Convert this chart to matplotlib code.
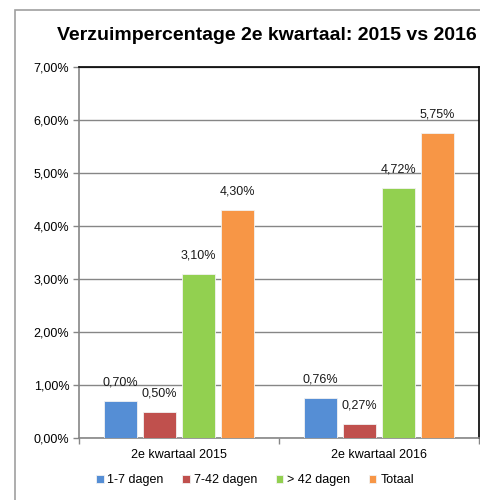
import matplotlib
matplotlib.use("Agg")
import matplotlib.pyplot as plt
from matplotlib.patches import Rectangle
import numpy as np

plt.rcParams['font.family'] = ['Liberation Sans', 'DejaVu Sans']

categories = ["2e kwartaal 2015", "2e kwartaal 2016"]
series_names = ["1-7 dagen", "7-42 dagen", "> 42 dagen", "Totaal"]
values = {
    "1-7 dagen": [0.70, 0.76],
    "7-42 dagen": [0.50, 0.27],
    "> 42 dagen": [3.10, 4.72],
    "Totaal": [4.30, 5.75],
}
yticks = [0, 1, 2, 3, 4, 5, 6, 7]
colors = ["#558ED5", "#C0504D", "#92D050", "#F79646"]

fig = plt.figure(figsize=(4.81, 5.0), dpi=100)
# outer chart border
fig.patches.append(Rectangle((15/481, -0.1), 1.0, 1 - 10/500 + 0.1, transform=fig.transFigure,
                             fill=False, edgecolor="#A0A0A0", linewidth=1.2, zorder=0))

ax = fig.add_axes([79/481, 1 - 438/500, 400/481, 371/500])
x = np.arange(len(categories))
offsets = [-0.2925, -0.0975, 0.0975, 0.2925]
w = 0.165
for i, name in enumerate(series_names):
    vals = values[name]
    bars = ax.bar(x + offsets[i], vals, width=w, color=colors[i], label=name, zorder=3,
                  edgecolor="#F2F2F2", linewidth=0.6)
    for b, v in zip(bars, vals):
        ax.annotate(f"{v:.2f}%".replace(".", ","), (b.get_x() + b.get_width()/2, v),
                    xytext=(0, 9), textcoords="offset points", ha="center", va="bottom",
                    fontsize=9, color="#1a1a1a")

ax.set_xlim(-0.5, 1.5)
ax.set_ylim(0, 7)
ax.set_yticks(yticks)
ax.set_yticklabels([f"{t:.2f}%".replace(".", ",") for t in yticks], fontsize=9)
ax.yaxis.grid(True, color="#868686", linewidth=1.0, zorder=0)
ax.set_xticks(x)
ax.set_xticklabels(categories, fontsize=9)
ax.tick_params(axis="x", length=0, pad=8)
ax.set_xticks([-0.5, 0.5, 1.5], minor=True)
ax.tick_params(axis="x", which="minor", length=4, color="#868686", width=1)
ax.tick_params(axis="y", length=4, color="#868686", width=1, pad=3)
for s in ["top", "right"]:
    ax.spines[s].set_color("black")
    ax.spines[s].set_linewidth(1.2)
for s in ["bottom", "left"]:
    ax.spines[s].set_color("#868686")
    ax.spines[s].set_linewidth(1.2)

fig.text(267/481, 1 - 35/500, "Verzuimpercentage 2e kwartaal: 2015 vs 2016",
         ha="center", va="center", fontsize=14, fontweight="bold")

leg = fig.legend(loc="center", bbox_to_anchor=(255/481, 1 - 480/500), ncol=4, frameon=False,
                 fontsize=9, handlelength=0.6, handleheight=0.6, handletextpad=0.3,
                 columnspacing=1.5)

fig.savefig("out.png", dpi=100)
